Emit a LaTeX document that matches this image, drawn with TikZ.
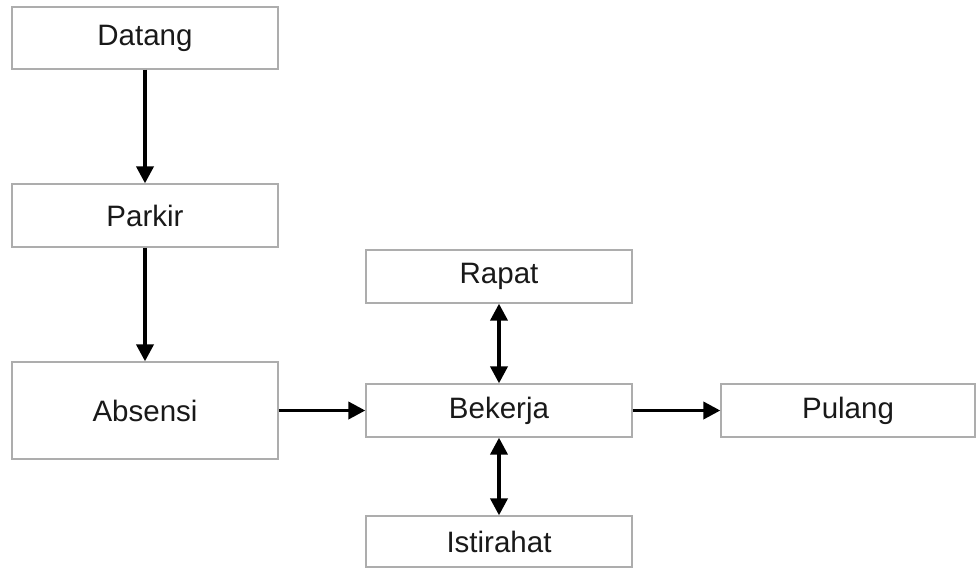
\documentclass[tikz,border=0pt]{standalone}
\usepackage{fontspec}
\setmainfont{Liberation Sans}
\usetikzlibrary{arrows.meta}
\begin{document}
\begin{tikzpicture}[x=1pt,y=-1pt,
  box/.style={draw=black!32,line width=1.3pt,fill=white,inner sep=0pt,
    font=\fontsize{29.5}{34}\selectfont,text=black!90},
  conn/.style={line width=3.8pt,-{Triangle[length=17pt,width=17pt]}},
  dconn/.style={line width=3.8pt,{Triangle[length=17pt,width=17pt]}-{Triangle[length=17pt,width=17pt]}}]
\useasboundingbox[fill=white] (0,0) rectangle (976,568);
\node[box,minimum width=266pt,minimum height=62pt] (datang) at (145,38) {Datang};
\node[box,minimum width=266pt,minimum height=63pt] (parkir) at (145,215.5) {Parkir};
\node[box,minimum width=266pt,minimum height=97pt] (absensi) at (145,410.5) {Absensi};
\node[box,minimum width=266pt,minimum height=53pt] (rapat) at (499,276.5) {Rapat};
\node[box,minimum width=266pt,minimum height=53pt] (bekerja) at (499,410.5) {Bekerja};
\node[box,minimum width=254pt,minimum height=53pt] (pulang) at (848,410.5) {Pulang};
\node[box,minimum width=266pt,minimum height=51pt] (istirahat) at (499,541.5) {Istirahat};
\draw[conn] (datang) -- (parkir);
\draw[conn] (parkir) -- (absensi);
\draw[conn] (absensi) -- (bekerja);
\draw[conn] (bekerja) -- (pulang);
\draw[dconn] (rapat) -- (bekerja);
\draw[dconn] (bekerja) -- (istirahat);
\end{tikzpicture}
\end{document}
